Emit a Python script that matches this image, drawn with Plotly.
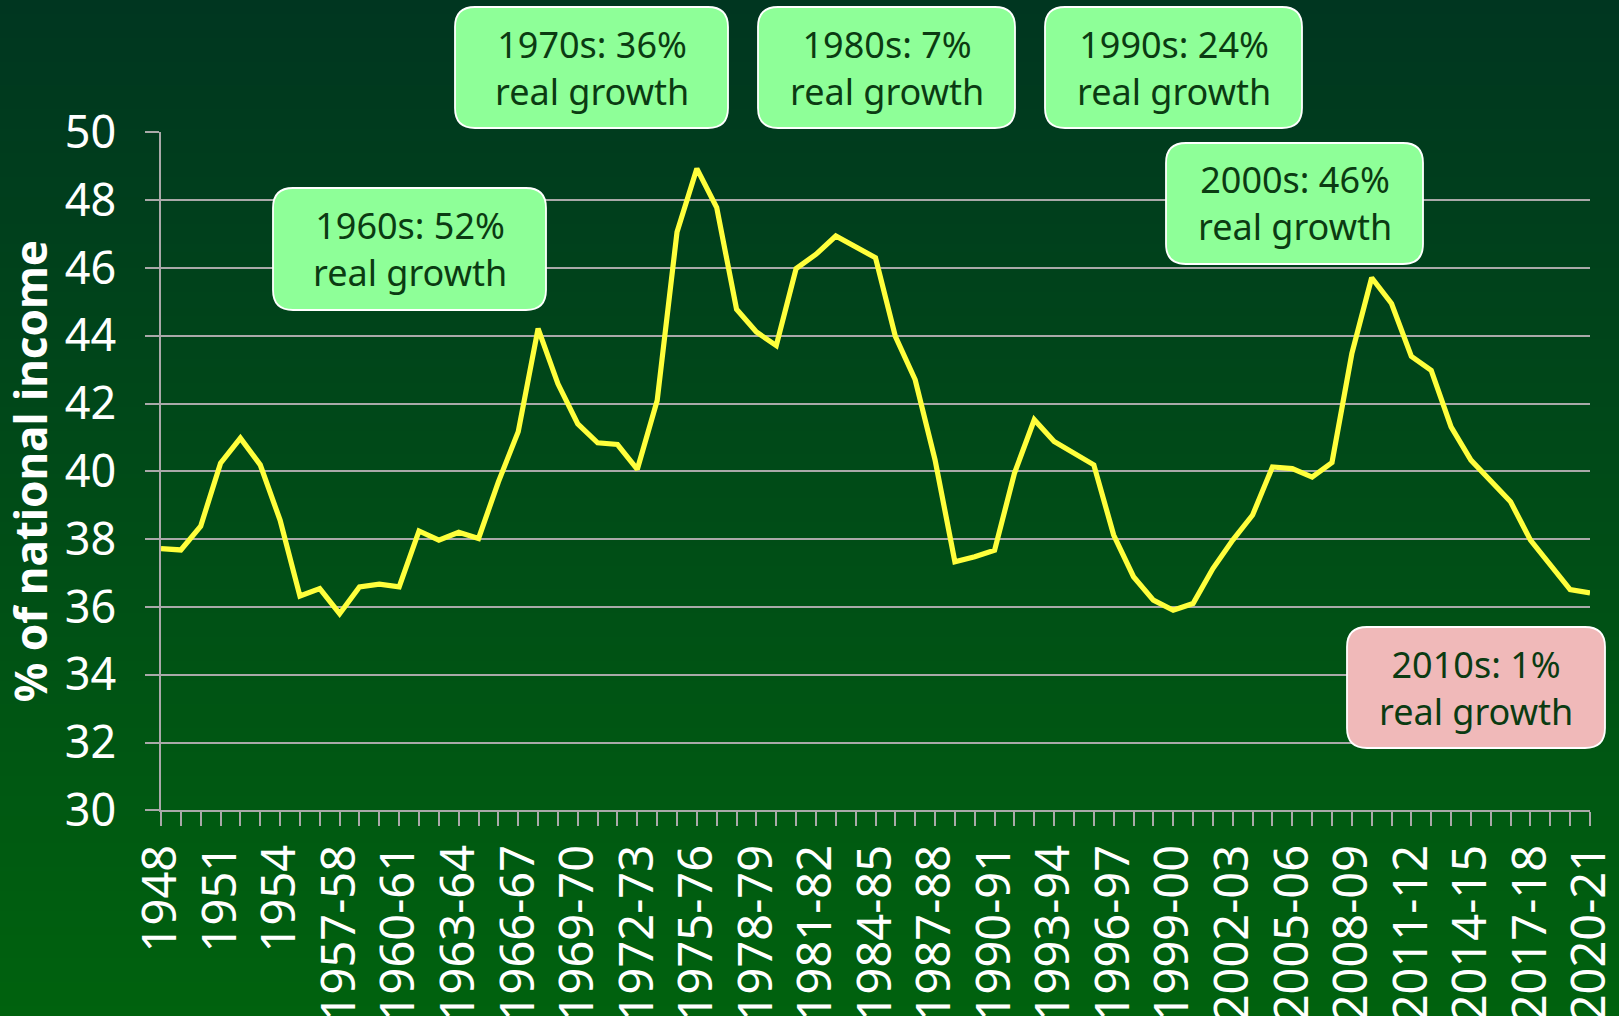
import base64
import struct
import zlib

import plotly.graph_objects as go

# ---------------- data ----------------
years = [
    "1948", "1949", "1950", "1951", "1952", "1953", "1954", "1955",
    "1956-57", "1957-58", "1958-59", "1959-60", "1960-61", "1961-62", "1962-63",
    "1963-64", "1964-65", "1965-66", "1966-67", "1967-68", "1968-69", "1969-70",
    "1970-71", "1971-72", "1972-73", "1973-74", "1974-75", "1975-76", "1976-77",
    "1977-78", "1978-79", "1979-80", "1980-81", "1981-82", "1982-83", "1983-84",
    "1984-85", "1985-86", "1986-87", "1987-88", "1988-89", "1989-90", "1990-91",
    "1991-92", "1992-93", "1993-94", "1994-95", "1995-96", "1996-97", "1997-98",
    "1998-99", "1999-00", "2000-01", "2001-02", "2002-03", "2003-04", "2004-05",
    "2005-06", "2006-07", "2007-08", "2008-09", "2009-10", "2010-11", "2011-12",
    "2012-13", "2013-14", "2014-15", "2015-16", "2016-17", "2017-18", "2018-19",
    "2019-20", "2020-21",
]

spending_pct = [
    37.72, 37.68, 38.38, 40.24, 40.98, 40.19, 38.56, 36.32, 36.54, 35.80,
    36.59, 36.67, 36.59, 38.24, 37.97, 38.20, 38.02, 39.69, 41.17, 44.21,
    42.58, 41.40, 40.84, 40.79, 40.06, 42.09, 47.06, 48.93, 47.78, 44.78,
    44.11, 43.71, 45.98, 46.40, 46.94, 46.62, 46.30, 43.98, 42.70, 40.34,
    37.33, 37.48, 37.67, 39.94, 41.52, 40.88, 40.53, 40.19, 38.12, 36.89,
    36.20, 35.90, 36.10, 37.13, 37.97, 38.71, 40.13, 40.08, 39.83, 40.26,
    43.47, 45.71, 44.95, 43.39, 42.98, 41.31, 40.33, 39.71, 39.10, 37.97,
    37.23, 36.51, 36.41,
]

tick_labels = years[::3]
y_ticks = [30, 32, 34, 36, 38, 40, 42, 44, 46, 48, 50]

decade_labels = ["1960s: 52%", "1970s: 36%", "1980s: 7%", "1990s: 24%",
                 "2000s: 46%", "2010s: 1%"]
decade_sub = ["real growth"] * 6

# ---------------- layout constants (pixels) ----------------
W, H = 1619, 1016
X_LEFT, X_RIGHT = 161, 1590
Y_TOP, Y_BOTTOM = 132.3, 810.3

GREEN_BOX = "#8eff98"
PINK_BOX = "#f0b9b9"
boxes = [
    (273, 188, 546, 310, GREEN_BOX),
    (455, 7, 728, 128, GREEN_BOX),
    (758, 7, 1015, 128, GREEN_BOX),
    (1045, 7, 1302, 128, GREEN_BOX),
    (1166, 143, 1423, 264, GREEN_BOX),
    (1347, 627, 1605, 748, PINK_BOX),
]


def px(x):
    return x / W


def py(y):
    return 1 - y / H


def gradient_png(top, bottom, h=256):
    raw = b""
    for r in range(h):
        t = r / (h - 1)
        c = bytes(int(round(top[k] + (bottom[k] - top[k]) * t)) for k in range(3))
        raw += b"\x00" + c

    def chunk(tag, data):
        return (struct.pack(">I", len(data)) + tag + data
                + struct.pack(">I", zlib.crc32(tag + data) & 0xFFFFFFFF))

    png = (b"\x89PNG\r\n\x1a\n"
           + chunk(b"IHDR", struct.pack(">IIBBBBB", 1, h, 8, 2, 0, 0, 0))
           + chunk(b"IDAT", zlib.compress(raw))
           + chunk(b"IEND", b""))
    return "data:image/png;base64," + base64.b64encode(png).decode()


def rounded_path(x0, y0, x1, y1, r):
    pts = [
        ("M", [(x0 + r, y0)]),
        ("L", [(x1 - r, y0)]),
        ("Q", [(x1, y0), (x1, y0 + r)]),
        ("L", [(x1, y1 - r)]),
        ("Q", [(x1, y1), (x1 - r, y1)]),
        ("L", [(x0 + r, y1)]),
        ("Q", [(x0, y1), (x0, y1 - r)]),
        ("L", [(x0, y0 + r)]),
        ("Q", [(x0, y0), (x0 + r, y0)]),
    ]
    s = ""
    for cmd, ps in pts:
        s += cmd + " " + " ".join(f"{px(a):.6f},{py(b):.6f}" for a, b in ps) + " "
    return s + "Z"


FONT = "Noto Sans"
GRID = "#a9a9a9"
TEXT_DARK = "#0b3b12"

fig = go.Figure()
fig.add_trace(go.Scatter(
    x=years, y=spending_pct, mode="lines",
    line=dict(color="#ffff3c", width=5.2),
    hoverinfo="x+y", showlegend=False,
))

shapes = []
annotations = []
for (x0, y0, x1, y1, fill), l1, l2 in zip(boxes, decade_labels, decade_sub):
    shapes.append(dict(
        type="path", xref="paper", yref="paper",
        path=rounded_path(x0, y0, x1, y1, 20),
        fillcolor=fill, line=dict(color="white", width=1.8), layer="above",
    ))
    cx = (x0 + x1) / 2
    cy = (y0 + y1) / 2
    annotations.append(dict(
        x=px(cx), y=py(cy), xref="paper", yref="paper",
        text=l1 + "<br>" + l2, showarrow=False, xanchor="center", yanchor="middle",
        align="center",
        font=dict(family=FONT, size=36, color=TEXT_DARK),
    ))

annotations.append(dict(
    x=px(30), y=py((Y_TOP + Y_BOTTOM) / 2), xref="paper", yref="paper",
    text="<b>% of national income</b>", showarrow=False, textangle=-90,
    xanchor="center", yanchor="middle",
    font=dict(family=FONT, size=44, color="white"),
))

fig.update_layout(
    width=W, height=H,
    autosize=False,
    margin=dict(l=0, r=0, t=0, b=0, pad=0, autoexpand=False),
    paper_bgcolor="#00480f",
    plot_bgcolor="rgba(0,0,0,0)",
    images=[dict(
        source=gradient_png((0, 54, 32), (0, 98, 14)),
        xref="paper", yref="paper", x=0, y=1, sizex=1, sizey=1,
        xanchor="left", yanchor="top", sizing="stretch", layer="below",
    )],
    shapes=shapes,
    annotations=annotations,
    font=dict(family=FONT, color="white"),
    xaxis=dict(
        domain=[px(X_LEFT), px(X_RIGHT)],
        type="category",
        categoryorder="array", categoryarray=years,
        range=[0, len(years) - 1],
        tickmode="array", tickvals=years,
        ticktext=[y if y in tick_labels else "" for y in years],
        tickangle=-90,
        ticks="outside", ticklen=14, tickwidth=1.5, tickcolor=GRID,
        showline=True, linecolor=GRID, linewidth=1.5,
        showgrid=False, zeroline=False,
        tickfont=dict(family=FONT, size=47, color="white"),
        ticklabelstandoff=0,
        automargin=False,
        fixedrange=True,
    ),
    yaxis=dict(
        domain=[py(Y_BOTTOM), py(Y_TOP)],
        range=[30, 50],
        tickmode="array", tickvals=y_ticks,
        ticks="outside", ticklen=14, tickwidth=1.5, tickcolor=GRID,
        showline=True, linecolor=GRID, linewidth=1.5,
        showgrid=True, gridcolor=GRID, gridwidth=1.5,
        zeroline=False,
        tickfont=dict(family=FONT, size=45, color="white"),
        ticklabelstandoff=20,
        automargin=False,
        fixedrange=True,
    ),
)

fig.write_html(
    "out.html",
    config={"displayModeBar": False},
    post_script="document.body.style.margin='0';document.body.style.overflow='hidden';",
)
